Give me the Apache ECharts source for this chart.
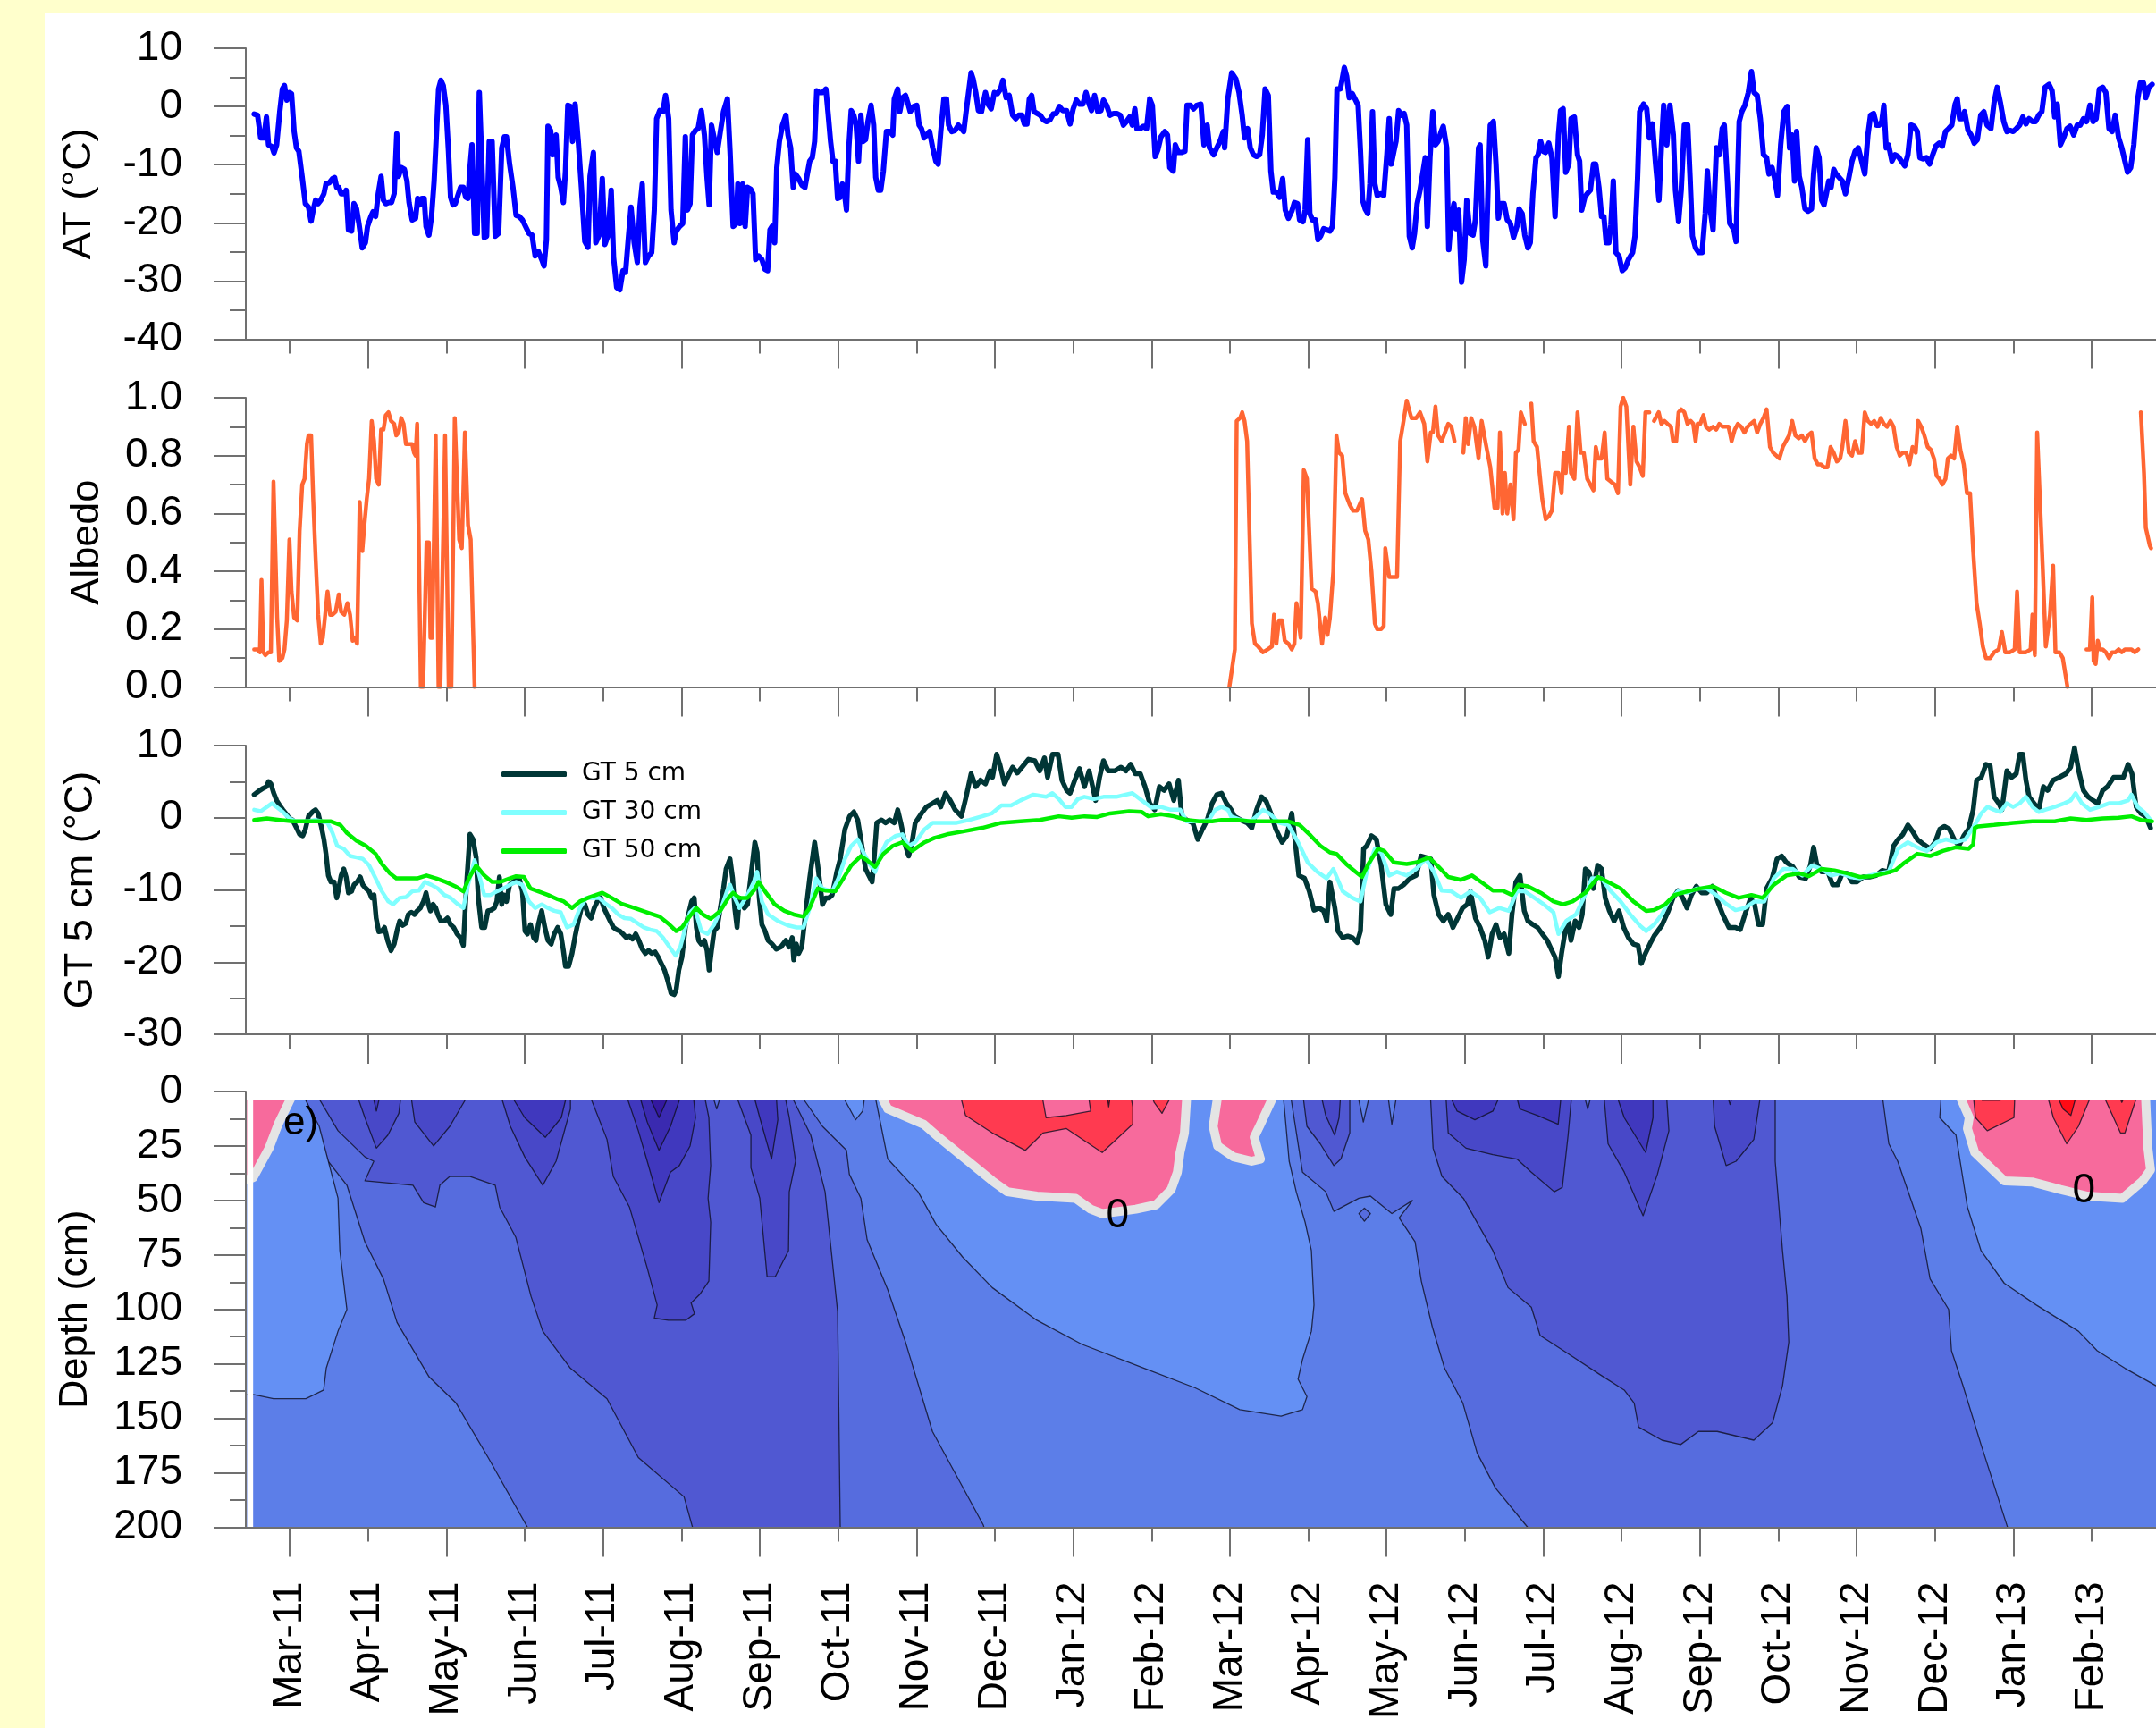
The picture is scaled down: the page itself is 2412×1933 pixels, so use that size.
<!DOCTYPE html>
<html><head><meta charset="utf-8">
<script src="https://cdn.jsdelivr.net/npm/echarts@6/dist/echarts.min.js"></script>
<style>
html,body{margin:0;padding:0;background:#FFFFCC;width:2412px;height:1933px;overflow:hidden}
#panel{position:absolute;left:50px;top:15px;width:2362px;height:1918px;background:#fff}
#chart{position:absolute;left:0;top:0;width:2412px;height:1933px}
</style></head><body><div id="panel"></div><div id="chart"></div>
<script>
// ---------- categories / ticks ----------
const monthLabels = ['Mar-11','Apr-11','May-11','Jun-11','Jul-11','Aug-11','Sep-11','Oct-11','Nov-11','Dec-11','Jan-12','Feb-12','Mar-12','Apr-12','May-12','Jun-12','Jul-12','Aug-12','Sep-12','Oct-12','Nov-12','Dec-12','Jan-13','Feb-13'];
const monthPos = monthLabels.map((_, i) => i * 30); // x unit: day, 30 per month (months evenly spaced)
const dayMin = -16.8, dayMax = 714.6;

// ---------- AT (°C) ----------
const atData = [
[-13.6,-1.3],[-12.3,-1.5],[-11.1,-5.4],[-9.9,-5.4],[-8.9,-1.8],[-8.1,-6.6],[-6.8,-6.9],[-6.0,-8.0],[-5.0,-6.6],[-3.8,-0.9],[-2.8,3.0],[-2.0,3.6],[-1.1,1.1],[-0.1,2.4],[0.7,2.2],[1.7,-4.3],[2.6,-7.1],[3.5,-7.7],[4.8,-12.2],[6.0,-16.7],[7.2,-17.3],[8.2,-19.7],[9.0,-17.8],[9.9,-16.1],[10.9,-16.7],[11.9,-16.1],[13.1,-15.0],[13.9,-13.3],[15.2,-13.1],[16.4,-12.4],[17.2,-12.2],[18.0,-13.9],[18.8,-13.9],[19.7,-15.0],[20.7,-15.0],[21.6,-14.4],[22.5,-21.2],[23.7,-21.4],[24.6,-16.7],[25.6,-17.6],[26.5,-20.1],[27.8,-24.3],[29.0,-23.4],[29.8,-20.6],[31.1,-18.9],[31.9,-18.1],[32.9,-18.9],[33.9,-15.0],[35.0,-12.0],[35.9,-16.1],[36.8,-16.7],[38.0,-16.5],[39.0,-16.5],[40.0,-15.0],[41.0,-4.7],[41.7,-12.0],[42.7,-10.5],[43.9,-10.8],[44.9,-12.8],[45.7,-16.5],[46.9,-19.5],[48.2,-19.2],[49.0,-15.8],[49.8,-16.9],[50.6,-15.8],[51.5,-15.8],[52.2,-20.6],[53.3,-22.1],[54.3,-18.9],[55.3,-12.8],[56.1,-5.4],[57.0,3.0],[57.9,4.5],[58.8,3.6],[59.8,0.2],[60.8,-7.7],[61.6,-15.6],[62.5,-16.9],[63.4,-16.7],[64.4,-15.3],[65.4,-13.9],[66.5,-13.9],[67.4,-15.6],[68.3,-15.8],[69.1,-10.2],[69.8,-6.6],[70.8,-21.8],[71.8,-21.8],[72.6,2.4],[73.5,-8.8],[74.5,-22.5],[75.4,-22.3],[76.4,-6.0],[77.5,-6.0],[78.7,-22.3],[80.0,-21.8],[81.2,-7.1],[82.2,-5.2],[83.0,-5.2],[84.2,-9.9],[85.5,-13.9],[86.7,-18.7],[87.9,-18.9],[89.1,-19.5],[90.3,-20.6],[91.6,-21.8],[92.8,-22.1],[94.0,-25.7],[95.2,-24.9],[96.5,-26.3],[97.4,-27.4],[98.3,-22.9],[98.9,-3.4],[99.9,-4.1],[100.7,-8.3],[102.0,-4.9],[102.8,-12.2],[103.8,-13.9],[104.8,-16.5],[105.6,-11.1],[106.5,0.2],[107.5,0.0],[108.3,-6.0],[109.3,0.4],[110.5,-6.0],[111.7,-13.9],[113.0,-23.2],[114.2,-24.2],[115.0,-12.0],[116.3,-7.9],[117.2,-23.4],[118.5,-22.1],[119.7,-12.4],[120.7,-23.7],[121.9,-22.1],[123.1,-14.4],[124.0,-25.9],[125.2,-31.1],[126.4,-31.5],[127.6,-28.2],[128.6,-28.5],[129.7,-22.5],[130.7,-17.3],[131.9,-23.4],[133.1,-26.8],[134.1,-17.3],[135.0,-13.3],[136.2,-26.8],[137.4,-25.7],[138.6,-25.1],[139.6,-17.8],[140.5,-2.1],[141.7,-0.7],[142.9,-0.9],[143.9,1.9],[145.1,-2.1],[146.0,-17.8],[147.2,-23.4],[148.0,-21.4],[149.3,-20.6],[150.5,-20.1],[151.5,-5.2],[152.3,-17.8],[153.3,-16.7],[154.2,-4.9],[155.4,-4.1],[156.4,-3.8],[157.6,-0.7],[158.8,-4.9],[159.8,-12.2],[160.6,-16.9],[161.5,-3.2],[162.5,-5.4],[163.7,-7.9],[164.9,-4.3],[166.1,-0.9],[167.6,1.3],[168.6,-7.7],[169.8,-20.6],[171.0,-20.1],
[171.6,-13.3],[172.5,-20.1],[173.5,-13.3],[174.4,-20.6],[175.3,-13.9],[176.5,-14.2],[177.4,-15.0],[178.4,-26.3],[179.6,-25.7],[180.8,-26.3],[182.0,-28.0],[183.0,-28.2],[183.9,-21.2],[184.7,-20.6],[185.7,-23.4],[186.5,-10.5],[187.5,-6.0],[188.7,-3.2],[190.0,-1.5],[190.8,-4.9],[191.8,-7.1],[192.8,-13.9],[193.6,-11.6],[194.9,-12.4],[196.1,-13.5],[197.3,-13.9],[198.2,-11.6],[199.1,-9.4],[200.1,-8.8],[201.0,-6.0],[201.8,2.7],[202.8,2.4],[204.0,2.4],[205.3,3.0],[206.1,-0.9],[207.1,-6.0],[208.0,-9.4],[208.9,-9.4],[209.8,-15.8],[210.8,-15.6],[211.6,-13.3],[212.3,-14.4],[213.2,-17.8],[214.1,-7.1],[215.0,-0.7],[216.0,-1.5],[216.9,-3.2],[217.8,-9.4],[218.7,-1.5],[219.6,-6.0],[220.5,-5.7],[221.4,-2.6],[222.6,0.2],[223.6,-3.2],[224.4,-12.2],[225.4,-14.4],[226.3,-14.4],[227.3,-11.1],[228.5,-4.3],[229.7,-4.3],[230.9,-4.9],[231.5,1.3],[232.8,3.0],[233.6,-0.9],[234.6,1.5],[235.8,1.9],[236.8,0.4],[237.6,-0.9],[238.9,0.0],[240.1,0.2],[241.0,-3.2],[241.9,-3.8],[242.9,-5.4],[243.8,-4.9],[245.0,-4.3],[246.2,-7.1],[247.4,-9.4],[248.3,-9.9],[249.3,-4.3],[250.5,1.3],[251.5,1.3],[252.3,-3.2],[253.5,-4.3],[254.8,-4.1],[256.0,-3.2],[257.2,-3.8],[258.1,-4.3],[259.0,-0.9],[260.9,5.8],[261.7,4.7],[262.7,2.4],[263.7,-0.7],[264.9,-0.9],[266.4,2.4],[267.4,0.4],[268.6,-0.4],[269.8,2.4],[271.0,2.2],[272.2,3.0],[273.1,4.5],[274.3,1.5],[275.5,1.9],[276.8,-1.5],[278.0,-2.1],[279.2,-1.5],[280.4,-1.5],[281.3,-3.0],[282.3,-3.0],[283.2,1.3],[284.1,1.9],[285.0,-0.9],[286.2,-1.2],[287.4,-1.5],[288.6,-2.3],[289.8,-2.6],[291.1,-2.3],[292.3,-1.3],[293.5,-1.2],[294.7,0.0],[296.0,-0.7],[297.5,-0.7],[298.8,-3.0],[300.0,-0.4],[301.2,1.1],[302.4,0.4],[303.7,0.4],[304.9,2.4],[306.1,0.4],[307.0,-0.7],[308.2,1.9],[309.4,-0.9],[310.6,-0.7],[311.6,1.1],[312.8,0.2],[314.1,-1.5],[315.5,-1.2],[316.7,-1.2],[318.0,-1.5],[319.2,-3.2],[320.4,-2.6],[321.6,-1.8],[322.6,-3.2],[323.6,-0.4],[324.4,-3.8],[325.7,-3.8],[326.9,-3.4],[328.1,-3.8],[329.3,1.3],[330.3,0.2],[331.4,-8.6],[332.4,-7.5],[333.6,-5.2],[335.1,-4.3],[336.1,-4.9],[337.0,-10.5],[338.3,-11.1],[339.1,-6.6],[340.3,-7.9],[341.6,-7.9],[342.8,-7.7],[343.6,0.2],[344.9,0.2],[346.1,-0.4],[347.3,0.2],[348.9,0.4],[350.1,-6.6],[351.3,-3.2],[352.2,-7.1],[353.8,-8.3],[355.0,-7.1],[356.2,-6.0],[357.5,-4.3],
[358.0,-7.1],[359.2,1.3],[360.7,5.8],[362.3,4.7],[363.5,2.4],[364.7,-1.5],[365.6,-5.4],[366.8,-3.8],[367.8,-7.1],[369.0,-8.3],[370.2,-8.6],[371.4,-8.3],[372.4,-4.9],[373.5,3.0],[374.7,1.9],[375.7,-11.1],[376.6,-14.7],[377.8,-14.7],[379.0,-15.6],[380.2,-12.4],[381.2,-17.8],[382.4,-19.2],[383.7,-18.0],[384.7,-16.5],[385.9,-16.7],[386.7,-19.5],[388.0,-19.8],[388.8,-17.8],[389.8,-5.7],[390.6,-18.4],[391.6,-19.5],[392.8,-19.5],[393.7,-22.9],[394.7,-22.3],[395.9,-21.0],[397.1,-21.2],[398.3,-21.4],[399.3,-20.6],[400.2,-12.2],[401.0,3.0],[402.3,3.0],[403.0,4.7],[403.8,6.7],[404.7,5.2],[405.7,1.5],[406.9,2.2],[408.1,1.1],[409.1,0.2],[410.0,-7.7],[410.8,-16.1],[411.8,-17.6],[412.8,-18.4],[413.6,-13.3],[414.6,-0.9],[415.5,-13.3],[416.4,-15.3],[417.7,-15.0],[418.9,-15.3],[420.1,-8.3],[421.0,-2.1],[421.8,-9.9],[422.8,-7.7],[423.6,-6.0],[424.6,-0.7],[425.6,-1.5],[426.7,-1.2],[427.7,-3.2],[428.7,-22.3],[429.8,-24.3],[430.7,-21.8],[431.7,-16.7],[432.8,-14.4],[433.8,-11.6],[434.8,-8.8],[435.6,-20.6],[436.6,-8.8],[437.7,-0.9],[438.7,-6.6],[439.7,-6.0],[440.9,-4.3],[441.7,-3.4],[443.0,-7.1],[443.8,-24.6],[444.8,-18.9],[445.8,-16.7],[446.6,-21.0],[447.6,-17.8],[448.7,-30.2],[449.7,-26.3],[450.7,-16.1],[451.9,-21.8],[453.1,-22.1],[454.0,-19.5],[455.2,-7.1],[455.8,-6.6],[456.8,-22.9],[458.0,-27.4],[458.9,-13.3],[459.7,-3.2],[460.9,-2.6],[461.9,-9.9],[462.8,-19.2],[463.7,-16.7],[465.0,-16.7],[466.2,-19.5],[467.4,-20.1],[468.6,-22.5],[469.9,-20.6],[470.7,-17.6],[471.9,-18.4],[472.9,-22.1],[474.1,-24.3],[475.0,-23.4],[476.0,-15.0],[477.2,-8.8],[478.0,-8.3],[479.0,-6.0],[480.0,-7.7],[480.9,-7.9],[482.1,-6.3],[483.3,-8.8],[484.5,-18.9],[485.8,-4.9],[486.6,-0.7],[487.6,-0.4],[488.6,-11.3],[489.8,-9.9],[490.6,-2.1],[491.9,-1.8],[493.1,-8.3],[493.9,-9.4],[494.7,-17.8],[495.9,-15.6],[496.8,-15.0],[498.0,-14.4],[499.2,-9.9],[500.1,-9.9],[501.3,-13.9],[502.3,-18.9],[503.2,-18.9],[504.1,-23.4],[505.1,-23.4],[505.9,-20.3],[506.8,-12.8],[507.8,-25.1],[509.0,-25.7],[510.2,-28.2],[511.4,-27.7],[512.6,-26.3],[514.2,-25.1],[515.1,-22.3],[516.1,-12.2],[516.9,-0.9],[518.4,0.4],[519.6,-0.4],[520.6,-5.4],[521.8,-3.0],[523.0,-9.9],[524.3,-16.1],[525.2,-7.1],[526.1,0.2],[527.3,-6.6],[528.5,0.2],[529.8,-4.9],[530.6,-14.4],[531.8,-19.8],[532.8,-14.4],[534.0,-3.2],[535.3,-3.2],[536.2,-12.2],[537.1,-22.3],[538.3,-24.3],[539.5,-25.1],[540.8,-25.1],[542.0,-18.4],[542.8,-11.1],[543.8,-17.3],[545.0,-21.2],[546.3,-7.1],[547.5,-8.3],[548.5,-3.8],[549.3,-3.2],
[551.4,-20.1],[553.0,-21.2],[553.8,-23.2],[555.0,-2.6],[556.0,-0.9],[557.2,0.2],[558.5,2.4],[559.7,6.0],[560.7,2.4],[561.9,1.9],[563.1,-2.1],[564.3,-8.3],[565.5,-8.8],[566.4,-11.6],[567.6,-10.5],[568.5,-12.2],[569.7,-15.3],[570.9,-6.6],[572.1,-0.9],[573.4,0.0],[574.3,-7.1],[575.3,-4.9],[576.2,-12.8],[577.0,-4.3],[578.0,-12.0],[579.0,-13.9],[580.2,-17.6],[581.4,-18.0],[582.7,-17.6],[583.5,-11.6],[584.5,-7.1],[585.6,-8.8],[586.6,-16.1],[587.5,-16.9],[588.4,-15.0],[589.3,-12.8],[590.2,-13.9],[591.2,-10.8],[592.1,-11.6],[593.3,-12.2],[594.5,-12.8],[595.7,-15.0],[597.0,-12.2],[598.2,-9.4],[599.4,-7.7],[600.6,-7.1],[601.9,-9.4],[603.1,-11.6],[604.3,-4.9],[605.3,-1.5],[606.5,-1.2],[607.6,-3.2],[608.6,-3.2],[609.6,-2.6],[610.4,0.2],[611.3,-7.1],[612.2,-6.6],[613.5,-9.4],[614.7,-8.3],[615.9,-8.6],[617.1,-9.4],[618.4,-10.2],[619.6,-8.3],[620.8,-3.2],[622.0,-3.4],[623.2,-4.3],[624.2,-8.8],[625.4,-9.0],[626.7,-8.8],[627.9,-9.9],[629.1,-8.3],[630.3,-6.8],[631.6,-6.3],[632.8,-6.8],[634.0,-4.3],[635.2,-3.8],[636.4,-3.2],[637.7,0.4],[638.5,1.3],[639.4,-2.1],[640.4,-2.1],[641.3,-0.9],[642.6,-4.1],[643.8,-4.9],[645.0,-6.3],[646.2,-5.7],[647.5,-1.5],[648.7,-0.9],[649.9,-3.2],[651.4,-3.8],[652.6,0.7],[653.8,3.3],[655.0,0.7],[656.3,-2.6],[657.5,-4.3],[658.7,-4.1],[659.9,-4.3],[661.1,-3.8],[662.4,-3.2],[663.6,-1.8],[664.8,-3.0],[666.0,-2.1],[667.3,-2.6],[668.5,-2.6],[669.7,-1.5],[670.9,-0.9],[672.1,3.3],[673.6,3.8],[674.8,2.7],[675.8,-1.8],[676.8,0.4],[678.0,-6.6],[679.2,-5.4],[680.5,-3.8],[681.7,-3.4],[683.1,-4.9],[684.4,-3.2],[685.6,-3.2],[686.8,-2.1],[688.0,-2.6],[689.3,0.2],[690.5,-2.6],[691.7,-2.1],[692.9,3.0],[694.2,3.3],[695.4,2.4],[696.6,-3.8],[697.8,-4.3],[699.0,-1.5],[700.3,-5.4],[701.5,-7.1],[702.7,-9.4],[703.7,-11.3],[704.9,-10.5],[706.1,-6.6],[707.4,0.7],[708.6,4.1],[709.8,4.1],[710.7,1.5],[711.9,3.3],[713.1,3.8]
];

// ---------- Albedo (null = no data) ----------
const albedoData = [
[-13.6,0.13],[-12.3,0.13],[-11.4,0.12],[-10.8,0.37],[-10.1,0.12],[-9.3,0.11],[-8.1,0.12],[-7.2,0.12],[-6.2,0.71],[-5.6,0.71],[-4.8,0.24],[-4.0,0.09],[-2.8,0.10],[-2.0,0.13],[-1.1,0.23],[-0.1,0.51],[0.7,0.33],[1.7,0.24],[2.9,0.23],[3.8,0.54],[4.8,0.70],[5.7,0.72],[6.6,0.84],[7.2,0.87],[8.2,0.87],[9.0,0.65],[9.9,0.45],[10.9,0.25],[11.9,0.15],[12.7,0.17],[13.6,0.25],[14.5,0.33],[15.5,0.25],[16.4,0.25],[17.6,0.26],[18.8,0.32],[19.7,0.26],[20.9,0.25],[22.1,0.29],[23.1,0.25],[24.1,0.16],[24.9,0.17],[25.8,0.15],[26.8,0.64],[27.8,0.47],[28.6,0.56],[29.5,0.65],[30.4,0.72],[31.4,0.92],[32.3,0.85],[33.1,0.72],[34.1,0.70],[35.0,0.89],[35.9,0.89],[36.8,0.94],[37.8,0.95],[38.8,0.92],[40.0,0.91],[40.8,0.87],[41.7,0.88],[42.7,0.93],[43.6,0.91],[44.5,0.84],[45.7,0.84],[46.9,0.84],[47.6,0.81],[48.2,0.80],[48.8,0.91],[49.4,0.91],[50.2,0.0],[51.1,0.0],[52.4,0.50],[53.3,0.50],[53.9,0.17],[54.6,0.17],[55.9,0.87],[57.0,0.0],[57.7,0.0],[59.5,0.87],[60.9,0.0],[61.9,0.0],[63.2,0.93],[64.9,0.51],[65.9,0.48],[67.1,0.88],[68.3,0.56],[69.3,0.51],[70.8,0.0],[72.0,null],
[359.8,0.0],[361.9,0.13],[362.6,0.92],[363.9,0.93],[364.7,0.95],[365.6,0.92],[366.6,0.85],[368.4,0.22],[369.6,0.15],[370.8,0.14],[372.7,0.12],[374.5,0.13],[376.1,0.14],[376.9,0.25],[377.8,0.15],[378.8,0.23],[380.0,0.23],[381.0,0.16],[382.4,0.15],[383.7,0.13],[384.7,0.15],[385.5,0.29],[387.1,0.17],[388.3,0.75],[389.5,0.72],[391.3,0.34],[392.8,0.33],[393.7,0.29],[395.3,0.15],[396.5,0.24],[397.4,0.18],[398.3,0.24],[399.6,0.40],[400.8,0.87],[401.8,0.81],[403.0,0.80],[404.2,0.67],[405.9,0.63],[407.1,0.61],[408.7,0.61],[410.6,0.65],[411.8,0.54],[413.0,0.51],[414.2,0.40],[415.5,0.22],[416.4,0.20],[417.9,0.20],[418.9,0.21],[419.5,0.48],[421.0,0.38],[422.2,0.38],[424.0,0.38],[425.2,0.85],[426.5,0.92],[427.7,0.99],[429.5,0.93],[431.3,0.93],[432.8,0.95],[434.4,0.91],[435.6,0.78],[436.9,0.88],[437.7,0.88],[438.7,0.97],[439.7,0.87],[441.1,0.85],[443.6,0.91],[444.8,0.90],[446.0,0.85],[447.5,null],[449.4,0.81],[450.3,0.93],[451.2,0.84],[452.4,0.93],[453.6,0.90],[455.2,0.79],[456.4,0.92],[458.0,0.84],[459.7,0.76],[461.3,0.62],[462.5,0.62],[463.4,0.88],[464.4,0.60],[465.3,0.74],[466.2,0.60],[467.4,0.70],[468.6,0.58],[469.5,0.81],[470.5,0.82],[471.4,0.95],[472.9,0.91],[474.0,null],[475.4,0.98],[476.3,0.85],[477.6,0.83],[478.8,0.72],[479.6,0.65],[480.9,0.58],[482.1,0.59],[483.3,0.61],[484.5,0.74],[485.8,0.74],[487.0,0.67],[487.8,0.81],[488.6,0.74],[489.8,0.90],[490.6,0.74],[491.9,0.72],[493.1,0.95],[494.3,0.81],[495.5,0.81],[496.8,0.72],[498.0,0.70],[499.2,0.68],[500.1,0.83],[501.0,0.79],[502.3,0.79],[503.5,0.88],[504.5,0.72],[505.9,0.71],[507.4,0.70],[508.6,0.67],[509.6,0.97],[510.6,1.0],[511.8,0.97],[513.3,0.70],[514.5,0.90],[515.7,0.78],[516.9,0.76],[518.1,0.73],[519.1,0.95],[520.6,0.95],[521.5,null],[522.4,0.92],
[523.0,0.92],[524.2,0.95],[525.2,0.91],[526.4,0.92],[527.6,0.91],[528.9,0.90],[529.7,0.85],[530.9,0.85],[531.8,0.95],[532.8,0.96],[534.0,0.95],[535.2,0.91],[536.4,0.92],[537.4,0.91],[538.3,0.85],[539.1,0.91],[540.1,0.91],[541.3,0.94],[542.3,0.90],[543.5,0.89],[545.0,0.90],[546.2,0.89],[547.4,0.91],[548.7,0.90],[549.7,0.90],[550.9,0.90],[552.1,0.85],[553.3,0.89],[554.5,0.91],[555.8,0.90],[557.0,0.88],[558.2,0.90],[559.4,0.91],[560.7,0.92],[561.9,0.88],[563.1,0.91],[564.3,0.93],[565.5,0.96],[566.8,0.83],[568.0,0.81],[569.2,0.80],[570.4,0.79],[571.7,0.83],[572.9,0.85],[574.1,0.87],[575.3,0.92],[576.5,0.87],[577.8,0.86],[579.0,0.87],[580.2,0.85],[581.4,0.87],[582.7,0.88],[583.9,0.79],[585.1,0.77],[586.3,0.77],[587.5,0.76],[588.8,0.76],[590.0,0.83],[591.2,0.81],[592.4,0.78],[593.7,0.79],[594.5,0.83],[595.7,0.92],[597.0,0.81],[598.2,0.80],[599.4,0.85],[600.6,0.81],[601.9,0.81],[603.1,0.95],[604.3,0.92],[605.5,0.91],[606.7,0.92],[608.0,0.90],[609.2,0.93],[610.4,0.91],[611.6,0.90],[612.9,0.92],[614.1,0.90],[615.3,0.83],[616.5,0.80],[617.7,0.81],[619.0,0.81],[620.2,0.77],[621.4,0.83],[622.6,0.81],[623.5,0.92],[624.7,0.90],[625.9,0.87],[627.2,0.83],[628.4,0.82],[629.6,0.79],[630.6,0.73],[631.6,0.72],[632.8,0.70],[634.0,0.72],[634.9,0.79],[636.1,0.80],[637.3,0.79],[638.5,0.90],[639.7,0.82],[641.0,0.77],[642.2,0.67],[643.4,0.67],[644.6,0.47],[645.9,0.29],[647.1,0.22],[648.3,0.14],[649.5,0.10],[651.1,0.10],[652.6,0.12],[654.4,0.13],[655.6,0.19],[656.9,0.12],[658.7,0.12],[660.5,0.13],[661.4,0.33],[662.4,0.12],[664.8,0.12],[666.6,0.13],[667.3,0.25],[668.2,0.11],[669.1,0.88],[669.7,0.88],[671.2,0.42],[672.4,0.14],[674.0,0.25],[675.2,0.42],[676.1,0.12],[677.6,0.12],[678.9,0.10],[680.7,0.0],[682.0,null],[688.0,0.13],[689.3,0.13],[690.2,0.31],[690.7,0.09],[691.5,0.08],[692.3,0.16],[693.2,0.13],[694.2,0.13],[695.4,0.12],[696.6,0.10],[697.8,0.12],[699.0,0.12],[700.3,0.13],[701.5,0.12],[702.7,0.13],[704.0,0.13],[705.2,0.13],[706.4,0.12],[707.8,0.13],[708.3,null],[708.8,0.95],[710.0,0.74],[710.7,0.55],[712.2,0.49],[712.7,0.48]
];

// ---------- Ground temperature (°C) ----------
const gt5Data = [
[-13.6,3.2],[-11.4,3.8],[-10.1,4.1],[-8.9,4.3],[-8.1,5.0],[-7.2,4.7],[-6.2,3.5],[-5.0,2.4],[-3.8,1.7],[-2.6,1.1],[-1.3,0.5],[-0.1,-0.1],[1.1,-0.3],[2.6,-1.4],[3.8,-2.3],[5.0,-2.5],[6.0,-1.6],[7.2,0.2],[8.7,0.8],[9.9,1.1],[10.9,0.6],[12.1,-1.2],[13.1,-3.0],[13.9,-5.0],[14.8,-8.0],[15.8,-8.9],[17.0,-8.9],[18.0,-11.1],[18.8,-9.8],[19.7,-8.0],[20.7,-7.1],[21.6,-8.2],[22.5,-10.4],[23.7,-10.2],[24.6,-9.3],[25.8,-8.9],[27.0,-8.2],[28.0,-9.3],[29.2,-9.8],[30.4,-10.2],[31.4,-11.1],[32.3,-10.7],[33.1,-13.9],[34.1,-15.8],[35.3,-15.7],[36.3,-15.2],[37.5,-17.0],[38.8,-18.4],[40.0,-17.5],[41.2,-15.5],[42.1,-14.3],[43.3,-14.9],[44.5,-14.6],[45.4,-13.4],[46.6,-13.1],[47.8,-13.4],[48.8,-12.9],[50.0,-12.5],[51.2,-11.6],[52.2,-10.4],[53.1,-12.0],[53.9,-12.9],[54.9,-12.0],[55.9,-12.5],[56.7,-13.4],[57.9,-14.3],[59.2,-14.3],[60.4,-13.9],[61.6,-14.8],[62.8,-15.2],[64.1,-16.1],[65.3,-16.6],[66.5,-17.7],[67.7,-9.3],[69.0,-2.3],[70.2,-3.0],[71.4,-5.5],[72.2,-11.1],[73.5,-15.2],[74.7,-15.2],[75.9,-12.9],[77.1,-12.8],[78.4,-12.5],[79.3,-11.6],[80.3,-8.2],[81.2,-12.0],[82.0,-10.7],[83.0,-11.6],[84.2,-9.3],[85.5,-8.9],[86.7,-8.6],[87.9,-8.4],[89.1,-10.2],[90.1,-15.7],[91.0,-16.1],[92.2,-14.8],[93.4,-16.6],[94.3,-17.0],[95.2,-14.8],[96.5,-12.9],[97.7,-15.2],[98.9,-17.0],[100.1,-17.5],[101.3,-16.1],[102.6,-15.2],[103.8,-16.1],[104.8,-18.4],[105.6,-20.6],[106.8,-20.6],[108.1,-18.8],[109.3,-16.4],[110.5,-14.3],[111.7,-12.5],[113.0,-12.0],[114.2,-13.4],[115.4,-13.9],[116.6,-12.5],[117.8,-11.6],[119.1,-11.1],[120.3,-12.5],[121.5,-13.4],[122.7,-14.3],[124.0,-15.2],[125.2,-15.5],[126.4,-15.7],[127.6,-16.1],[128.9,-16.6],[130.1,-16.4],[131.3,-16.8],[132.5,-16.1],[133.7,-17.0],[135.0,-18.2],[136.2,-18.8],[137.4,-18.4],[138.6,-18.8],[139.9,-18.6],[141.1,-19.3],[142.3,-20.2],[143.5,-21.1],[144.7,-22.5],[146.0,-24.3],[147.2,-24.5],[148.0,-23.8],[149.0,-21.1],[150.2,-19.3],[151.5,-15.2],[152.7,-13.4],[153.9,-11.6],[154.9,-11.1],[155.7,-15.2],[156.6,-17.0],[157.6,-17.5],[158.8,-17.0],[159.8,-18.4],[160.6,-21.1],[161.5,-18.4],[162.5,-15.7],[163.7,-15.2],[164.9,-12.5],[166.1,-9.8],[167.1,-7.1],[168.6,-5.7],[169.6,-8.4],[170.4,-12.5],[171.3,-15.2],
[172.2,-11.1],[174.1,-12.5],[175.3,-12.0],[176.5,-8.4],[178.1,-3.4],[179.0,-4.8],[179.8,-11.1],[180.8,-14.8],[182.0,-15.7],[183.2,-17.0],[184.7,-17.5],[186.3,-18.2],[188.1,-17.9],[190.0,-17.0],[191.2,-17.9],[192.4,-16.6],[193.0,-19.7],[194.0,-17.5],[194.9,-18.8],[196.1,-17.9],[197.3,-13.9],[199.1,-8.4],[201.0,-3.4],[202.2,-6.6],[204.0,-12.0],[205.3,-11.1],[206.5,-11.1],[207.7,-10.7],[209.5,-7.5],[210.8,-5.7],[212.6,-1.6],[214.4,0.2],[216.0,0.8],[217.5,-0.3],[218.7,-3.0],[220.5,-7.1],[223.0,-8.9],[223.6,-6.6],[224.8,-0.7],[226.6,-0.3],[228.2,-0.7],[229.7,-0.3],[231.5,-0.7],[232.8,1.1],[234.0,-0.7],[235.8,-3.9],[237.0,-5.3],[238.3,-3.4],[239.5,-0.7],[241.9,0.6],[243.8,1.5],[246.2,2.0],[248.0,2.4],[249.3,1.5],[251.1,3.4],[252.9,2.4],[254.8,1.1],[257.2,0.2],[259.0,2.9],[260.9,6.1],[262.7,4.3],[264.5,5.2],[266.4,4.7],[268.2,6.5],[269.1,5.6],[270.7,8.8],[271.9,7.4],[273.7,4.7],[275.5,6.1],[276.8,7.0],[278.6,6.2],[280.4,7.0],[282.9,8.1],[285.3,7.9],[287.2,6.5],[289.0,8.3],[290.2,5.6],[292.1,8.8],[294.2,8.8],[295.7,5.2],[297.5,3.8],[298.8,3.4],[300.6,5.2],[302.4,6.8],[304.3,4.3],[306.1,6.5],[308.6,2.4],[310.1,5.6],[311.6,7.9],[313.4,6.5],[315.9,6.5],[318.3,7.0],[320.2,6.5],[322.0,7.4],[323.8,6.1],[325.7,6.1],[327.5,4.3],[329.3,2.0],[331.2,1.1],[333.0,4.3],[334.8,3.8],[336.7,4.7],[338.5,2.4],[340.3,5.2],[341.6,0.2],[343.4,-0.3],[345.8,-0.7],[347.7,-3.0],[349.5,-1.6],[351.3,-0.3],[353.2,2.0],[355.0,3.2],[356.8,3.4],[358.7,2.0],[360.5,1.1],
[361.7,0.2],[364.1,-0.3],[366.6,-0.7],[368.4,-1.4],[370.2,1.1],[372.1,2.9],[373.9,2.3],[375.7,0.6],[377.6,-1.6],[380.0,-3.4],[381.8,-2.5],[383.7,0.6],[384.9,-3.0],[386.4,-8.0],[388.6,-8.4],[390.4,-10.2],[392.2,-12.8],[394.1,-12.5],[395.9,-12.9],[397.1,-14.3],[398.3,-8.9],[400.2,-12.5],[401.4,-15.7],[403.2,-16.6],[405.1,-16.4],[406.9,-16.6],[408.7,-17.3],[410.0,-15.7],[411.2,-4.3],[412.4,-3.9],[414.2,-2.5],[416.1,-3.0],[417.9,-6.6],[419.7,-12.0],[421.6,-13.4],[422.8,-9.8],[424.6,-9.8],[426.5,-9.3],[428.9,-8.4],[431.3,-8.0],[433.2,-5.3],[435.0,-5.5],[436.9,-5.7],[438.1,-10.7],[439.9,-13.4],[441.7,-14.3],[443.6,-13.4],[445.4,-15.2],[447.2,-13.9],[449.1,-12.5],[450.9,-12.0],[452.1,-10.2],[454.0,-13.9],[455.8,-15.2],[457.6,-17.0],[458.9,-19.3],[460.4,-16.1],[461.9,-14.8],[463.4,-16.6],[465.0,-16.1],[466.8,-18.8],[468.0,-13.4],[469.5,-8.9],[471.1,-8.0],[472.7,-12.9],[474.1,-14.3],[476.0,-14.8],[477.8,-15.2],[479.6,-16.1],[481.5,-17.0],[483.3,-18.4],[484.5,-19.3],[485.8,-22.0],[487.0,-18.8],[488.2,-16.1],[489.4,-14.3],[490.6,-17.0],[492.2,-14.3],[493.7,-15.2],[494.9,-13.4],[496.1,-7.1],[497.4,-7.5],[499.2,-9.8],[500.8,-6.6],[502.3,-7.1],[503.7,-11.1],[505.3,-12.9],[507.1,-14.3],[509.0,-12.9],[510.8,-15.2],[512.6,-16.6],[514.5,-17.5],[516.3,-17.7],[517.5,-20.2],[519.1,-18.8],[520.8,-17.5],[522.4,-16.4],
[525.4,-14.9],[527.9,-12.9],[529.7,-11.1],[531.6,-10.1],[533.4,-11.1],[535.0,-12.5],[536.7,-10.7],[538.6,-9.5],[540.7,-10.4],[542.6,-10.4],[544.8,-9.5],[546.8,-11.6],[548.7,-13.4],[551.1,-15.2],[553.6,-15.2],[555.4,-15.5],[557.2,-13.4],[559.4,-11.1],[560.9,-12.0],[562.4,-14.8],[564.0,-14.8],[565.5,-9.8],[567.6,-8.4],[569.5,-5.7],[571.3,-5.3],[573.1,-6.2],[575.6,-6.8],[578.0,-8.2],[580.5,-8.4],[582.3,-6.6],[583.5,-4.1],[584.7,-6.4],[586.6,-7.5],[589.0,-7.5],[590.8,-9.3],[592.7,-9.3],[594.5,-7.7],[596.3,-7.7],[598.2,-8.9],[600.0,-8.9],[602.5,-8.2],[604.9,-8.2],[607.4,-8.0],[609.8,-7.3],[612.2,-7.5],[614.1,-3.9],[615.9,-3.0],[617.7,-2.3],[619.6,-1.0],[621.4,-1.9],[623.2,-3.0],[625.7,-3.7],[628.1,-4.3],[630.0,-3.4],[631.8,-1.6],[633.6,-1.2],[635.5,-1.6],[637.3,-3.0],[639.1,-3.9],[641.0,-2.5],[642.8,-1.6],[644.6,1.1],[645.9,5.2],[647.7,5.6],[649.5,7.4],[651.1,7.2],[652.6,2.9],[654.4,2.0],[655.6,1.1],[657.5,6.5],[659.3,5.6],[661.1,6.1],[662.4,8.8],[663.6,8.8],[664.8,5.2],[666.0,2.9],[667.9,2.0],[669.7,1.1],[671.5,4.3],[673.1,3.8],[675.2,5.2],[677.6,5.6],[680.1,6.1],[681.9,7.0],[683.4,9.7],[685.0,6.5],[686.8,3.8],[688.6,2.9],[690.5,2.4],[692.3,2.0],[694.2,3.8],[696.0,4.3],[698.4,5.6],[700.3,5.6],[702.1,5.6],[703.9,7.4],[705.4,6.1],[707.0,1.5],[708.8,0.6],[710.7,0.2],[712.5,-1.4]
];
const gt30Data = [
[-13.6,1.1],[-11.1,0.9],[-8.7,1.5],[-6.8,2.0],[-5.0,1.5],[-2.6,0.8],[-0.1,-0.1],[2.3,-0.5],[4.8,-0.5],[7.2,-0.5],[9.7,-0.3],[12.1,-0.5],[14.5,-0.7],[16.4,-2.1],[18.2,-3.9],[20.7,-4.3],[23.1,-5.3],[25.6,-5.5],[28.0,-5.7],[30.4,-6.6],[32.9,-8.4],[35.3,-10.2],[37.8,-11.6],[39.6,-12.0],[42.1,-11.1],[44.5,-11.0],[46.9,-10.2],[49.4,-10.1],[51.8,-8.9],[54.3,-9.3],[56.7,-9.8],[59.2,-10.7],[61.6,-11.1],[64.1,-11.9],[66.5,-12.5],[68.3,-9.3],[70.8,-5.9],[72.6,-8.0],[74.5,-10.7],[76.9,-10.7],[79.3,-10.2],[81.8,-9.8],[84.2,-9.3],[86.7,-8.9],[89.1,-9.3],[91.6,-11.6],[94.0,-12.5],[96.5,-12.0],[98.9,-12.5],[101.3,-12.9],[103.8,-13.1],[106.2,-15.2],[108.7,-14.8],[111.1,-12.5],[113.6,-11.1],[116.0,-11.1],[118.5,-11.1],[120.9,-11.9],[123.3,-12.5],[125.8,-13.4],[128.2,-13.9],[130.7,-14.0],[133.1,-14.6],[135.6,-15.2],[138.0,-15.5],[140.5,-15.7],[142.9,-16.6],[145.4,-17.9],[147.8,-19.1],[149.6,-17.9],[151.5,-15.2],[153.3,-13.1],[155.1,-12.5],[157.6,-15.7],[160.0,-16.1],[162.5,-14.8],[164.9,-12.9],[167.4,-10.2],[168.6,-9.3],[170.4,-11.1],[172.2,-12.5],
[175.3,-10.7],[177.7,-8.9],[179.0,-7.5],[180.8,-11.6],[183.2,-13.4],[186.9,-14.3],[190.6,-14.9],[194.2,-15.2],[196.7,-15.2],[199.1,-12.5],[201.6,-8.4],[204.0,-9.8],[207.7,-10.2],[210.1,-8.4],[212.6,-5.7],[215.0,-3.9],[217.5,-3.0],[219.9,-5.0],[222.4,-6.6],[224.2,-7.5],[226.0,-5.3],[228.5,-3.4],[232.1,-2.5],[234.6,-2.3],[237.0,-3.9],[239.5,-3.4],[243.1,-1.6],[246.2,-0.7],[250.5,-0.7],[255.4,-0.7],[260.3,-0.3],[265.2,0.2],[268.8,0.6],[272.5,1.7],[276.2,1.7],[279.8,2.4],[284.7,3.2],[289.6,2.9],[292.0,3.4],[294.5,2.6],[297.0,1.5],[299.4,1.5],[301.8,2.6],[304.3,2.9],[308.0,2.6],[311.6,2.9],[316.5,2.9],[322.6,3.4],[326.3,2.4],[330.0,1.4],[333.6,1.5],[337.3,1.1],[341.0,1.1],[343.4,-0.5],[348.3,-0.5],[352.0,-0.3],[354.4,1.1],[356.8,1.5],[359.3,1.1],
[360.4,0.2],[364.1,-0.3],[367.8,-0.5],[370.2,0.2],[372.7,1.1],[375.1,0.6],[378.8,-0.7],[382.4,-1.0],[386.1,-3.4],[389.8,-6.2],[393.5,-7.5],[397.1,-8.4],[399.6,-7.1],[403.2,-10.2],[406.9,-11.1],[410.0,-11.6],[412.4,-7.5],[415.5,-4.3],[417.9,-4.8],[421.0,-8.0],[424.0,-7.5],[427.7,-8.0],[431.3,-7.1],[435.0,-5.7],[438.1,-7.5],[441.1,-10.1],[444.8,-10.2],[448.5,-11.1],[452.1,-10.2],[455.8,-11.1],[459.5,-13.1],[463.1,-12.5],[466.8,-12.9],[469.9,-10.2],[472.9,-10.2],[476.6,-11.1],[480.2,-12.0],[483.9,-13.1],[485.8,-16.1],[488.8,-14.3],[492.5,-13.4],[495.5,-11.1],[498.6,-8.4],[502.3,-8.4],[505.9,-10.2],[509.6,-11.6],[513.3,-13.4],[516.9,-14.9],[519.4,-15.7],[522.4,-14.8],
[525.4,-13.4],[527.9,-11.6],[531.6,-10.2],[535.2,-10.4],[538.9,-9.8],[542.6,-9.8],[546.2,-10.7],[549.9,-11.9],[553.6,-12.8],[557.2,-12.5],[560.9,-11.6],[564.6,-11.6],[568.2,-8.4],[571.9,-7.1],[575.6,-7.1],[579.2,-8.0],[582.9,-6.6],[586.6,-7.1],[590.2,-8.0],[593.9,-7.7],[597.6,-8.2],[601.2,-8.4],[604.9,-8.0],[608.6,-7.7],[612.2,-7.5],[615.9,-4.3],[619.6,-3.4],[623.2,-4.1],[626.9,-4.6],[630.6,-3.4],[634.2,-3.0],[637.9,-3.4],[641.6,-3.0],[645.2,-1.0],[647.7,0.6],[650.1,1.5],[652.6,1.1],[655.0,0.8],[657.5,2.0],[659.9,1.5],[662.4,2.0],[664.8,2.9],[667.3,1.5],[669.7,0.8],[672.1,1.1],[675.8,1.5],[679.5,2.0],[681.9,2.4],[683.8,3.4],[686.2,2.0],[689.3,1.1],[692.9,1.5],[696.6,2.0],[700.3,2.0],[703.9,2.4],[705.2,3.2],[707.6,1.5],[710.0,0.8],[712.5,-0.3]
];
const gt50Data = [
[-13.6,-0.3],[-8.7,-0.1],[-3.8,-0.3],[1.1,-0.5],[6.0,-0.5],[10.9,-0.5],[15.8,-0.5],[19.4,-1.0],[21.9,-2.1],[25.6,-3.2],[29.2,-3.9],[32.9,-5.0],[35.3,-6.4],[38.4,-7.7],[40.8,-8.4],[45.1,-8.4],[48.8,-8.4],[52.4,-8.0],[56.1,-8.4],[59.8,-8.9],[63.4,-9.5],[66.5,-10.2],[68.6,-8.4],[71.4,-6.6],[74.5,-8.0],[77.5,-8.9],[80.6,-8.9],[84.2,-8.4],[86.7,-8.1],[89.7,-8.2],[92.2,-9.8],[95.2,-10.2],[98.9,-10.7],[102.6,-11.3],[105.0,-11.6],[108.1,-12.5],[111.1,-11.6],[114.8,-11.0],[119.7,-10.4],[123.3,-11.1],[127.0,-11.9],[131.9,-12.5],[136.8,-13.1],[141.7,-13.7],[145.4,-14.8],[148.0,-15.7],[150.2,-15.2],[152.7,-13.9],[155.7,-12.5],[158.2,-13.4],[161.2,-14.0],[164.9,-12.9],[168.0,-11.1],[169.8,-10.4],[172.2,-11.1],
[175.3,-11.1],[177.7,-10.1],[179.6,-8.9],[182.0,-10.2],[185.7,-12.0],[189.4,-12.9],[193.0,-13.4],[196.7,-13.7],[199.1,-12.5],[202.2,-9.8],[205.3,-10.1],[208.9,-10.2],[212.0,-8.4],[215.0,-6.6],[218.7,-5.3],[221.1,-5.9],[224.2,-6.8],[227.3,-5.0],[230.9,-3.9],[234.6,-3.4],[238.3,-4.6],[243.1,-3.4],[246.8,-2.8],[251.7,-2.3],[257.8,-1.9],[265.2,-1.4],[272.5,-0.7],[279.8,-0.5],[287.2,-0.3],[294.5,0.2],[299.4,0.0],[304.3,0.2],[309.2,0.1],[314.1,0.6],[321.4,0.9],[326.3,0.8],[328.7,0.2],[333.6,0.5],[338.5,0.2],[343.4,-0.3],[348.3,-0.5],[353.2,-0.5],[356.8,-0.3],[361.1,-0.3],
[362.9,-0.3],[367.8,-0.5],[372.7,-0.5],[377.6,-0.5],[382.4,-0.5],[386.7,-1.0],[391.0,-2.5],[394.7,-3.9],[398.3,-4.8],[400.8,-5.0],[404.5,-6.4],[408.1,-7.5],[410.6,-8.2],[413.0,-6.4],[416.7,-4.3],[419.1,-4.6],[422.8,-6.2],[427.7,-6.4],[431.3,-6.2],[436.2,-5.5],[439.9,-6.8],[443.6,-8.2],[448.5,-8.6],[452.7,-8.0],[457.0,-9.1],[460.7,-10.1],[464.4,-10.1],[468.0,-10.7],[470.5,-9.3],[474.1,-9.5],[479.0,-10.4],[483.9,-11.6],[487.6,-12.0],[491.2,-11.6],[496.1,-10.4],[501.0,-8.2],[504.7,-8.9],[509.6,-9.8],[514.5,-11.6],[519.4,-12.9],[522.4,-12.8],
[526.7,-12.0],[530.3,-10.7],[535.2,-10.2],[540.1,-9.8],[545.0,-9.5],[549.9,-10.4],[554.8,-11.1],[559.7,-10.7],[564.0,-11.1],[568.2,-9.3],[573.1,-8.0],[578.0,-7.7],[581.7,-8.1],[586.6,-7.1],[591.5,-7.3],[596.3,-7.7],[601.2,-8.2],[606.1,-8.1],[611.0,-7.7],[614.7,-7.3],[618.4,-6.2],[623.2,-5.0],[628.1,-5.3],[633.0,-4.6],[637.9,-4.1],[642.8,-4.3],[644.6,-3.7],[645.2,-1.4],[646.5,-1.2],[652.6,-1.0],[659.9,-0.7],[667.3,-0.5],[675.8,-0.5],[681.9,-0.1],[688.0,-0.3],[694.2,-0.1],[700.3,0.0],[705.2,0.2],[708.8,-0.3],[713.1,-0.5]
];

// ---------- Depth contour polygons: [day, depth cm] ----------
const cBase = [[-20,0],[720,0],[720,205],[-20,205]];
const cL2a = [[5.1,0],[14.7,32],[21.9,43],[28.8,69],[35.9,86],[41.1,106],[53.4,131],[63.7,143],[76.0,168],[93.4,205],[267,205],[265.6,199],[246.1,156],[235.8,115],[229.0,91],[221.1,68],[218.7,49],[214.3,38],[213.2,27],[204.0,16],[194.7,0]];
const cL2b = [[383.0,0],[387.8,37],[396.7,46],[399.8,55],[409.4,49],[413.8,48],[422.0,56],[429.9,50],[424.8,58],[430.9,69],[433.3,87],[437.5,108],[442.2,127],[449.2,143],[454.7,166],[461.7,182],[474.0,200],[475.5,205],[659,205],[657.5,199],[647.6,162],[640.7,135],[636.3,119],[635.2,100],[628.1,86],[624.6,63],[615.7,32],[612.3,24],[609.6,0]];
const cL3a = [[9.6,0],[18.5,18],[28.8,30],[32.2,32],[28.8,41],[47.2,43],[51.3,51],[55.8,53],[57.5,43],[61.3,39],[69.1,39],[78.7,43],[80.4,53],[86.6,67],[92.4,94],[96.9,110],[107.5,127],[121.5,141],[133.5,168],[151.0,186],[155.4,205],[211,205],[210.8,199],[209.8,101],[205.0,46],[199.5,20],[191.3,0]];
const cL3c = [[436.7,0],[437.8,26],[441.2,39],[449.4,49],[460.7,73],[466.5,90],[475.4,99],[478.8,112],[489.1,120],[501.8,130],[511.0,137],[514.8,143],[516.5,154],[525.4,160],[532.6,162],[539.4,156],[546.6,156],[560.6,160],[567.8,152],[571.6,135],[574.0,115],[573.3,94],[571.6,73],[568.8,32],[568.8,0]];
const cL3d = [[387.8,0],[389.5,16],[394.6,24],[399.8,34],[402.5,31],[405.9,19],[405.9,0]];
const cL2s1 = [[161.5,0],[163.5,8],[165.5,0]];
const cL2s2 = [[495.3,0],[497.0,8],[498.7,0]];
const cL2s3 = [[409.4,56],[411.5,53.5],[413.8,56],[411.5,59.5]];
const cL4a = [[25.3,0],[28.8,12],[33.2,26],[37.6,20],[41.8,10],[42.8,0]];
const cL4b = [[46.2,0],[47.9,14],[55.1,25],[61.3,16],[69.1,0]];
const cL4c = [[80.4,0],[84.5,16],[90.0,30],[96.9,43],[102.0,32],[107.5,8],[107.5,0]];
const cL4d = [[114.3,0],[121.5,22],[123.9,39],[130.1,53],[136.9,81],[140.7,98],[139.6,104],[145,105],[151.6,105],[155.0,102],[153.7,97],[157.1,93],[160.5,87],[161.2,60],[160.2,49],[161.2,34],[160.5,12],[158.5,0]];
const cL4e = [[170.4,0],[176.6,20],[176.6,35],[180.0,49],[182.8,85],[185.9,85],[191.0,73],[191.3,46],[193.7,32],[191.3,12],[189.3,0]];
const cL4f = [[394.6,0],[396.7,11],[400.1,20],[401.8,12],[402.5,0]];
const cL4g = [[442.6,0],[443.6,19],[450.4,26],[460.7,29],[469.9,31],[475.4,37],[484.2,46],[487.3,44],[489.5,20],[491.0,0]];
const cL4h = [[503.1,0],[504.8,24],[511.0,37],[518.2,57],[523.7,38],[528.1,18],[527.1,0]];
const cL4i = [[544.9,0],[545.6,16],[550.0,34],[553.8,32],[560.6,22],[563.4,0]];
const cL5a = [[31.5,0],[33.2,9],[34.9,0]];
const cL5b = [[83.9,0],[90.0,12],[97.9,21],[104.0,12],[106.4,0]];
const cL5c = [[128.4,0],[133.5,18],[136.9,32],[141.4,51],[145.8,37],[149.2,34],[153.3,25],[155.4,12],[154.4,0]];
const cL5d = [[177.3,0],[180.0,12],[184.5,31],[186.9,13],[186.2,0]];
const cL5e = [[443.5,0],[447.0,9],[453.8,13],[460.7,9],[464.1,0]];
const cL5f = [[469.3,0],[471.0,8],[477.8,11],[485.7,15],[487.0,0]];
const cL5g = [[507.6,0],[511.0,12],[519.2,28],[522.0,12],[522.0,0]];
const cL5h = [[550.0,0],[551.5,6],[553.0,0]];
const cL6 = [[133.5,0],[136.9,14],[141.4,27],[145.8,16],[150.3,0]];
const cL7 = [[136.9,0],[141.4,12],[145.8,0]];
const cL1s1 = [[408.7,0],[411.1,14],[413.8,0]];
const cL1s2 = [[420.3,0],[422.0,15],[424.1,0]];
const cL0a = [[4.4,0],[11.3,16],[18.5,49],[19.2,73],[21.9,100],[18.5,110],[14.0,127],[13.0,137],[6.2,141],[-6.2,141],[-14,139],[-20,139],[-20,0]];
const cL0b = [[223.8,0],[229.0,31],[240.6,46],[247.5,61],[257.7,76],[269.0,90],[286.1,105],[303.3,116],[327.2,127],[346.7,136],[363.8,146],[379.6,149],[387.8,146],[389.5,140],[386.1,132],[387.8,123],[391.2,110],[392.2,98],[391.2,73],[388.8,60],[385.4,46],[382.7,32],[380.3,0]];
const cL0c = [[632.5,0],[631.8,12],[638.0,20],[642.4,53],[647.6,73],[656.5,88],[668.8,98],[684.9,110],[692.1,119],[702.7,127],[714.6,135],[720,137],[720,0]];
const cL0s = [[210.8,0],[216.7,13],[219.4,9],[220.4,0]];
const cPa = [[1.7,0],[-4.4,15],[-7.9,26],[-14,39.5],[-20,40],[-20,0]];
const cPb = [[225.6,0],[229.0,8],[242.7,15],[248.5,21],[258.8,31],[269.0,41],[274.8,46],[286.1,48],[300.9,49],[306.7,54],[311.1,56],[318,55],[324,54],[331.7,52],[337.5,45],[339.9,37],[340.9,28],[342.6,19],[343.6,0]];
const cPc = [[355.6,0],[353.6,16],[355.3,25],[361.4,30],[368.3,32],[371.7,31],[369.3,21],[371.7,15],[377.5,0]];
const cPd = [[638.7,0],[643.1,12],[642.4,17],[645.2,28],[653.0,37],[656.5,41],[667.1,41.5],[678.0,45],[688.3,48],[701.7,49],[709.5,41],[712.5,36],[711.5,26],[710.5,0]];
const cRa = [[256.4,0],[258.8,11],[269.0,19],[281.7,27],[288.5,19],[297.4,17],[311.1,28],[322.8,15],[322.8,7],[321.8,0]];
const cPn = [[287.8,0],[289.6,12],[297.4,11],[306.7,9],[305.6,0]];
const cRb = [[329.6,0],[331,5],[334,10],[338.5,0]];
const cRc = [[644.5,0],[645.5,12],[650,18],[660.2,12],[660.6,0]];
const cRd = [[672.6,0],[675.3,12],[680.4,24],[684.9,16],[690.4,0]];
const cRe = [[693.8,0],[701.0,19],[702.7,19],[707.9,0]];
const cR2a = [[268.0,0],[270,3],[282.7,3],[282.7,0]];
const cR2b = [[312.8,0],[313.6,7],[314.5,0]];
const cR2c = [[676,0],[679,8],[682,11],[684.5,0]];
const cR2d = [[646.5,0],[648,4],[655,4],[657,0]];
const cR2e = [[700,0],[701.5,5],[703.5,0]];
const zeroLineA = [[1.7,0],[-4.4,15],[-7.9,26],[-14,39.5],[-20,42]];
const zeroLabels = [[317,57],[687,45.7]];

const contourLayers = [
 ['L1',cBase],['L2',cL2a],['L2',cL2b],['L3',cL3a],['L3',cL3c],['L3',cL3d],['L2',cL2s1],['L2',cL2s2],
 ['L4',cL4a],['L4',cL4b],['L4',cL4c],['L4',cL4d],['L4',cL4e],['L4',cL4f],['L4',cL4g],['L4',cL4h],['L4',cL4i],
 ['L5',cL5a],['L5',cL5b],['L5',cL5c],['L5',cL5d],['L5',cL5e],['L5',cL5f],['L5',cL5g],['L5',cL5h],['L6',cL6],['L7',cL7],
 ['L1',cL1s1],['L1',cL1s2],['L2',cL2s3],
 ['L0',cL0a],['L0',cL0b],['L0',cL0c],['L0',cL0s],
 ['P',cPa],['P',cPb],['P',cPc],['P',cPd],
 ['R',cRa],['PN',cPn],['R',cRb],['R',cRc],['R',cRd],['R',cRe],
 ['R2',cR2a],['R2',cR2b],['R2',cR2c],['R2',cR2d],['R2',cR2e]
];
const zeroLines = [zeroLineA, cPb, cPc, cPd];

// ---------- styles ----------
const levelColor = {L0:'#6490F4',L1:'#5C7EE8',L2:'#566CDE',L3:'#5058D2',L4:'#4848C8',L5:'#4038BE',L6:'#3A2AB0',L7:'#3418A0',P:'#F76A9C',PN:'#F76A9C',R:'#FF3A50',R2:'#FF0A14'};
const FONT = 'Liberation Sans, Arial, Helvetica, sans-serif';
const LEG_FONT = 'DejaVu Sans, Verdana, sans-serif';
const AXC = '#707070';
const LINE_C = 'rgba(15,15,35,0.8)';

function xAxesFor(grid, longOdd, withLabels) {
  const longVals = monthPos.filter((_, i) => (i % 2 === 1) === longOdd);
  const shortVals = monthPos.filter((_, i) => (i % 2 === 1) !== longOdd);
  return [
    {type:'value', gridIndex:grid, position:'bottom', min:dayMin, max:dayMax, z:10,
     axisLine:{show:true, onZero:false, lineStyle:{color:AXC, width:2}},
     axisTick:{show:true, customValues:longVals, length:33, lineStyle:{color:AXC, width:2}},
     axisLabel: withLabels ? {show:true, customValues:monthPos, rotate:90, margin:61, fontSize:46, fontFamily:FONT, color:'#000',
        formatter: v => monthLabels[Math.round(v / 30)]} : {show:false},
     splitLine:{show:false}},
    {type:'value', gridIndex:grid, position:'bottom', min:dayMin, max:dayMax, z:10,
     axisLine:{show:false, onZero:false},
     axisTick:{show:true, customValues:shortVals, length:16, lineStyle:{color:AXC, width:2}},
     axisLabel:{show:false}, splitLine:{show:false}}
  ];
}
function yAxisFor(grid, min, max, interval, name, nameGap, inverse, fmt) {
  return {type:'value', gridIndex:grid, min, max, interval, inverse, z:10,
    name, nameLocation:'middle', nameGap, nameRotate:90,
    nameTextStyle:{fontSize:45, fontFamily:FONT, color:'#000'},
    axisLine:{show:true, onZero:false, lineStyle:{color:AXC, width:2}},
    axisTick:{show:true, length:36, lineStyle:{color:AXC, width:2}},
    minorTick:{show:true, splitNumber:2, length:18, lineStyle:{color:AXC, width:2}},
    axisLabel:{fontSize:46, margin:71, color:'#000', fontFamily:FONT, formatter:fmt},
    splitLine:{show:false}, minorSplitLine:{show:false}};
}
function lineSeries(name, xi, yi, data, color, width) {
  return {type:'line', name, xAxisIndex:xi, yAxisIndex:yi, data, symbol:'none', showSymbol:false, connectNulls:false,
    lineStyle:{color, width, join:'round', cap:'round'}, itemStyle:{color}};
}

const chart = echarts.init(document.getElementById('chart'), null, {renderer:'canvas'});
chart.setOption({
  animation:false,
  backgroundColor:'transparent',
  grid:[
    {left:275, right:0, top:54, height:325.5, outerBoundsMode:'none'},
    {left:275, right:0, top:445, height:323.5, outerBoundsMode:'none'},
    {left:275, right:0, top:834, height:323, outerBoundsMode:'none'},
    {left:275, right:0, top:1221, height:487.5, outerBoundsMode:'none'}
  ],
  xAxis:[].concat(xAxesFor(0,true,false), xAxesFor(1,true,false), xAxesFor(2,true,false), xAxesFor(3,false,true)),
  yAxis:[
    yAxisFor(0,-40,10,10,'AT (°C)',164,false,v=>String(v)),
    yAxisFor(1,0,1,0.2,'Albedo',155,false,v=>v.toFixed(1)),
    yAxisFor(2,-30,10,10,'GT 5 cm (°C)',162,false,v=>String(v)),
    yAxisFor(3,0,200,25,'Depth (cm)',168,true,v=>String(v))
  ],
  legend:{data:['GT 5 cm','GT 30 cm','GT 50 cm'], orient:'vertical', left:556, top:846,
    icon:'roundRect', itemWidth:73, itemHeight:6, itemGap:13,
    textStyle:{fontSize:28, fontFamily:LEG_FONT, color:'#000', lineHeight:30, padding:[0,0,0,12]}},
  graphic:[{type:'text', x:317, y:1257, z:100, style:{text:'e)', fontSize:44, fontFamily:FONT, fill:'#000', verticalAlign:'middle', align:'left'}}],
  series:[
    lineSeries('AT', 0, 0, atData, '#0000FF', 6),
    lineSeries('Albedo', 2, 1, albedoData, '#FF6633', 4.5),
    lineSeries('GT 5 cm', 4, 2, gt5Data, '#003636', 5.5),
    lineSeries('GT 30 cm', 4, 2, gt30Data, '#80FFFF', 4.5),
    lineSeries('GT 50 cm', 4, 2, gt50Data, '#00EE00', 4.5),
    {type:'custom', name:'Depth', xAxisIndex:6, yAxisIndex:3, data:[[0,0]], clip:true, silent:true,
     renderItem:(params, api) => {
       const pt = p => api.coord(p);
       const ch = [];
       contourLayers.forEach(([lv, pts]) => {
         const noStroke = (lv === 'P' || pts === cBase);
         ch.push({type:'polygon', shape:{points:pts.map(pt)},
           style:{fill:levelColor[lv], stroke: noStroke ? null : LINE_C, lineWidth:1.3, lineJoin:'round'}});
       });
       zeroLines.forEach(pts => ch.push({type:'polyline', shape:{points:pts.map(pt)},
           style:{fill:null, stroke:'#E4E4E4', lineWidth:10, lineJoin:'round', lineCap:'round'}}));
       zeroLabels.forEach(p => { const c = pt(p);
         ch.push({type:'text', x:c[0], y:c[1], style:{text:'0', fontSize:46, fontFamily:FONT, fill:'#000', align:'center', verticalAlign:'middle'}}); });
       const a = pt([dayMin, -3]), b = pt([dayMax, 4]);
       ch.push({type:'rect', shape:{x:a[0], y:a[1], width:b[0]-a[0], height:b[1]-a[1]}, style:{fill:'#fff'}});
       const c1 = pt([-16.3, -3]), c2 = pt([-14, 205]);
       ch.push({type:'rect', shape:{x:c1[0], y:c1[1], width:c2[0]-c1[0], height:c2[1]-c1[1]}, style:{fill:'#fff'}});
       return {type:'group', children:ch};
     }}
  ]
});
</script></body></html>
